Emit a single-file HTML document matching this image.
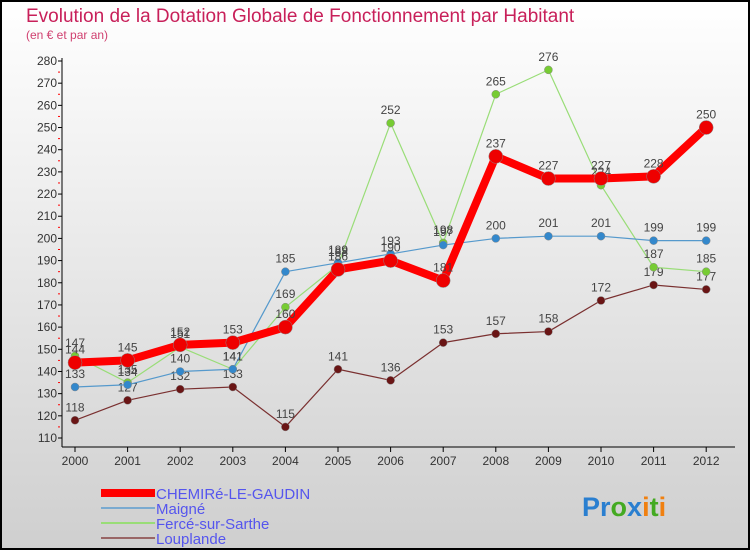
<!DOCTYPE html>
<html><head><meta charset="utf-8"><style>
body{margin:0;width:750px;height:550px;overflow:hidden;font-family:"Liberation Sans",sans-serif}
</style></head><body>
<svg id="c" width="750" height="550" xmlns="http://www.w3.org/2000/svg">
<defs><linearGradient id="bg" x1="0" y1="0" x2="0" y2="1"><stop offset="0" stop-color="#ffffff"/><stop offset="1" stop-color="#cfcfcf"/></linearGradient></defs>
<rect x="1" y="1" width="748" height="548" fill="url(#bg)" stroke="#000" stroke-width="2"/>
<text x="26" y="22" font-size="19" fill="#c8205a">Evolution de la Dotation Globale de Fonctionnement par Habitant</text>
<text x="26" y="39" font-size="12" fill="#d04070">(en € et par an)</text>
<g id="axes"></g><g id="series"></g>
<g>
<rect x="101" y="489" width="54" height="8" fill="#f00"/>
<text x="156" y="499" font-size="15" fill="#5555ee">CHEMIRé-LE-GAUDIN</text>
<rect x="101" y="507" width="54" height="2" fill="#7aaad0"/>
<text x="156" y="514" font-size="15" fill="#5555ee">Maigné</text>
<rect x="101" y="522" width="54" height="2" fill="#99dd77"/>
<text x="156" y="529" font-size="15" fill="#5555ee">Fercé-sur-Sarthe</text>
<rect x="101" y="537" width="54" height="2" fill="#996666"/>
<text x="156" y="544" font-size="15" fill="#5555ee">Louplande</text>
</g>
<text x="582" y="516" font-size="27" font-weight="bold"><tspan fill="#2a7fd0">Pr</tspan><tspan fill="#44aa22">o</tspan><tspan fill="#2a7fd0">x</tspan><tspan fill="#f08010">i</tspan><tspan fill="#44aa22">t</tspan><tspan fill="#f08010">i</tspan></text>
</svg>
<script>
const years=[2000,2001,2002,2003,2004,2005,2006,2007,2008,2009,2010,2011,2012];
const yTicks=[110,120,130,140,150,160,170,180,190,200,210,220,230,240,250,260,270,280];
const chemire=[144,145,152,153,160,186,190,181,237,227,227,228,250];
const maigne=[133,134,140,141,185,189,193,197,200,201,201,199,199];
const ferce=[147,135,151,141,169,188,252,198,265,276,224,187,185];
const louplande=[118,127,132,133,115,141,136,153,157,158,172,179,177];
const NS="http://www.w3.org/2000/svg";
const x=i=>75+i*52.6;
const y=v=>438-(v-110)*(377/170);
function mk(t,a,p){const e=document.createElementNS(NS,t);for(const k in a)e.setAttribute(k,a[k]);p.appendChild(e);return e;}
const ax=document.getElementById('axes');
let l=mk('line',{x1:62,y1:58,x2:62,y2:447,stroke:'#000'},ax);


l=mk('line',{x1:62,y1:447,x2:735,y2:447,stroke:'#000'},ax);


yTicks.forEach(v=>{
 const t=mk('text',{x:57,y:y(v)+4,'font-size':12,'text-anchor':'end',fill:'#333'},ax);t.textContent=v;
 
 
 mk('line',{x1:58,y1:y(v),x2:62,y2:y(v),stroke:'#000'},ax);
 if(v<280)mk('line',{x1:58,y1:y(v+5),x2:60,y2:y(v+5),stroke:'#f00'},ax);
});
years.forEach((yr,i)=>{
 const t=mk('text',{x:x(i),y:465,'font-size':12,'text-anchor':'middle',fill:'#333'},ax);t.textContent=yr;
 
 
 mk('line',{x1:x(i),y1:447,x2:x(i),y2:452,stroke:'#000'},ax);
});
const sg=document.getElementById('series');
function draw(data,name,color,dot,w,r){
 const g=mk('g',{},sg);
 
 
 const p=mk('polyline',{points:data.map((v,i)=>x(i)+','+y(v)).join(' '),fill:'none',stroke:color,'stroke-width':w,'stroke-linejoin':'round'},g);
 
 
 data.forEach((v,i)=>{
  const c=mk('circle',{cx:x(i),cy:y(v),r:r,fill:dot,stroke:'#888','stroke-width':0.5},g);
  
  
  const t=mk('text',{x:x(i),y:y(v)-9,'font-size':12,'text-anchor':'middle',fill:'#444'},g);t.textContent=v;
  
  
 });
}
draw(louplande,'louplande','#7a3030','#6a1515',1.2,4);
draw(ferce,'ferce','#99dd77','#77cc33',1.2,4);
draw(maigne,'maigne','#5599cc','#3388cc',1.2,4);
draw(chemire,'chemire','#ff0000','#ee0000',8,7);
</script>
</body></html>
